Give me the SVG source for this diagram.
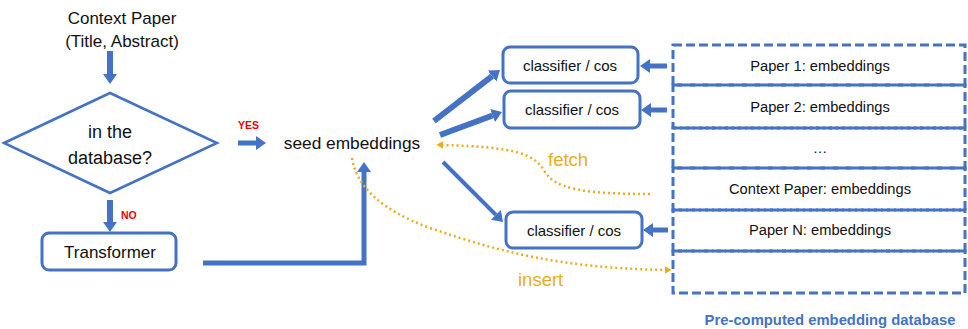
<svg xmlns="http://www.w3.org/2000/svg" width="968" height="329" viewBox="0 0 968 329">
  <style>
    text { font-family: "Liberation Sans", Arial, sans-serif; fill: #111; }
    .t17 { font-size: 17px; }
    .t18 { font-size: 18px; }
    .cls { font-size: 15px; }
    .row { font-size: 14.7px; }
    .lab { font-size: 10.5px; font-weight: bold; fill: #e00; }
    .orange { font-size: 18.5px; fill: #e8ad1e; }
    .cap { font-size: 14.8px; font-weight: bold; fill: #4472c4; }
    .box { fill: #fff; stroke: #4472c4; stroke-width: 3; }
    .db { fill: none; stroke: #4472c4; stroke-width: 3; stroke-dasharray: 9 4; }
    .arr { fill: none; stroke: #4472c4; stroke-width: 6; marker-end: url(#ah); }
    .dot { fill: none; stroke: #e8ad1e; stroke-width: 2.5; stroke-dasharray: 2 3; marker-end: url(#oh); }
  </style>
  <defs>
    <marker id="ah" viewBox="0 0 10 10" refX="0" refY="5" markerWidth="10" markerHeight="14" markerUnits="userSpaceOnUse" orient="auto" preserveAspectRatio="none">
      <path d="M0,0 L10,5 L0,10 z" fill="#4472c4"/>
    </marker>
    <marker id="oh" viewBox="0 0 10 10" refX="2" refY="5" markerWidth="7" markerHeight="8" markerUnits="userSpaceOnUse" orient="auto" preserveAspectRatio="none">
      <path d="M0,0 L10,5 L0,10 z" fill="#e8ad1e"/>
    </marker>
  </defs>

  <!-- input -->
  <g id="context">
    <text class="t17" x="122" y="24" text-anchor="middle">Context Paper</text>
    <text class="t17" x="122" y="47" text-anchor="middle">(Title, Abstract)</text>
  </g>

  <!-- decision -->
  <g id="decision">
    <polygon points="4,143 110,93 217,143 110,193" fill="#fff" stroke="#4472c4" stroke-width="2.5"/>
    <text class="t18" x="110" y="138" text-anchor="middle">in the</text>
    <text class="t18" x="110" y="164" text-anchor="middle">database?</text>
  </g>

  <g id="transformer">
    <rect class="box" x="42" y="233" width="134" height="37" rx="7"/>
    <text class="t17" x="110" y="258" text-anchor="middle">Transformer</text>
  </g>

  <g id="seed">
    <text class="t17" x="352" y="149" text-anchor="middle" style="font-size:17.3px">seed embeddings</text>
  </g>

  <g id="classifier1">
    <rect class="box" x="503" y="47" width="135" height="36" rx="7"/>
    <text class="cls" x="570" y="71" text-anchor="middle">classifier / cos</text>
  </g>
  <g id="classifier2">
    <rect class="box" x="504" y="91" width="136" height="37" rx="7"/>
    <text class="cls" x="572" y="115" text-anchor="middle">classifier / cos</text>
  </g>
  <g id="classifierN">
    <rect class="box" x="506" y="212" width="136" height="36" rx="7"/>
    <text class="cls" x="574" y="236" text-anchor="middle">classifier / cos</text>
  </g>

  <!-- embedding store -->
  <g id="database">
    <rect class="db" x="673" y="45" width="292" height="40"/>
    <rect class="db" x="673" y="85" width="292" height="43"/>
    <rect class="db" x="673" y="128" width="292" height="40"/>
    <rect class="db" x="673" y="168" width="292" height="42"/>
    <rect class="db" x="673" y="210" width="292" height="41"/>
    <rect class="db" x="673" y="251" width="292" height="42"/>
    <text class="row" x="820" y="71" text-anchor="middle">Paper 1: embeddings</text>
    <text class="row" x="820" y="112" text-anchor="middle">Paper 2: embeddings</text>
    <text class="row" x="820" y="153" text-anchor="middle">…</text>
    <text class="row" x="820" y="194" text-anchor="middle">Context Paper: embeddings</text>
    <text class="row" x="820" y="235" text-anchor="middle">Paper N: embeddings</text>
    <text class="cap" x="830" y="325" text-anchor="middle">Pre-computed embedding database</text>
  </g>

  <g id="connectors">
    <line class="arr" x1="110" y1="51" x2="110" y2="74"/>
    <line class="arr" x1="110" y1="200" x2="110" y2="222"/>
    <text class="lab" x="121" y="219">NO</text>
    <line class="arr" x1="238" y1="143" x2="256" y2="143" style="stroke-width:5"/>
    <text class="lab" x="238" y="129">YES</text>
    <polyline class="arr" points="203,263 364,263 364,172" style="stroke-width:5"/>
    <line class="arr" x1="434" y1="121" x2="492.1" y2="76.1"/>
    <line class="arr" x1="440" y1="135" x2="492.6" y2="115.5"/>
    <line class="arr" x1="443" y1="162" x2="495.9" y2="214.9" style="stroke-width:4"/>
    <line class="arr" x1="667" y1="66" x2="650" y2="66" style="stroke-width:5"/>
    <line class="arr" x1="667" y1="110" x2="651" y2="110" style="stroke-width:5"/>
    <line class="arr" x1="668" y1="230" x2="653" y2="230" style="stroke-width:5"/>
    <path class="dot" d="M650,194 C580,194 555,188 545,172 C535,155 520,147 442,145"/>
    <text class="orange" x="548" y="166">fetch</text>
    <path class="dot" d="M352,158 C356,185 380,210 430,228 C500,252 560,268 666,270"/>
    <text class="orange" x="518" y="286">insert</text>
  </g>
</svg>
